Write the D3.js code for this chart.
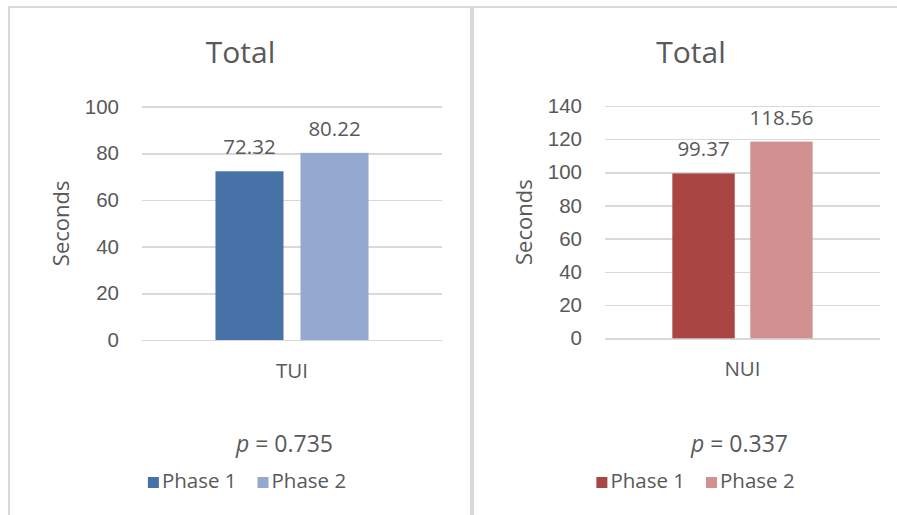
<!doctype html>
<html lang='en'>
<head>
  <meta charset='UTF-8'>
  <title>Total</title>
  <style>
    body,html{
      margin: 0;
      padding: 0;
      background: #fff;
    }
    svg{
      display: block;
      font-family: 'Open Sans', 'Noto Sans', sans-serif;
    }
    .grid line{
      stroke: #d9d9d9;
      stroke-width: 1.5;
      shape-rendering: crispEdges;
    }
    .grid path{ display: none; }
    .grid text{
      fill: #595959;
      font-size: 20.5px;
    }
    .chart-title{
      fill: #595959;
      font-size: 30px;
      text-anchor: middle;
    }
    .axis-title{
      fill: #595959;
      font-size: 22px;
      text-anchor: middle;
    }
    .bar-label, .cat-label, .legend text{
      fill: #595959;
      font-size: 20.5px;
    }
    .bar-label, .cat-label{ text-anchor: middle; }
    .p-text{
      fill: #595959;
      font-size: 23px;
      text-anchor: middle;
    }
  </style>
</head>
<body>
<script src='https://d3js.org/d3.v7.min.js'></script>
<script>
  // data
  const series = ['Phase 1', 'Phase 2']
  const tuiCategories = ['TUI']
  const tuiValues = [72.32, 80.22]
  const tuiTicks = [0, 20, 40, 60, 80, 100]
  const tuiColors = ['#4672a8', '#95a9d0']
  const tuiP = '0.735'

  const nuiCategories = ['NUI']
  const nuiValues = [99.37, 118.56]
  const nuiTicks = [0, 20, 40, 60, 80, 100, 120, 140]
  const nuiColors = ['#a94543', '#d29190']
  const nuiP = '0.337'

  const W = 897
  const H = 515

  const svg = d3.select('body').append('svg')
    .attr('width', W)
    .attr('height', H)

  // panel frames (screenshot is cropped on right and bottom)
  svg.append('rect')
    .attr('x', 9).attr('y', 7)
    .attr('width', 462).attr('height', 530)
    .attr('fill', '#fff')
    .attr('stroke', '#d9d9d9')
    .attr('stroke-width', 2)
  svg.append('rect')
    .attr('x', 473).attr('y', 7)
    .attr('width', 440).attr('height', 530)
    .attr('fill', '#fff')
    .attr('stroke', '#d9d9d9')
    .attr('stroke-width', 2)

  function drawPanel(p){
    const g = svg.append('g')

    const x0 = d3.scaleBand()
      .domain(p.categories)
      .range([p.left, p.right])
      .paddingOuter(0.48)

    const x1 = d3.scaleBand()
      .domain(series)
      .range([0, x0.bandwidth()])
      .paddingInner(0.2)

    const y = d3.scaleLinear()
      .domain([0, d3.max(p.ticks)])
      .range([p.bottom, p.top])

    // title
    g.append('text')
      .classed('chart-title', true)
      .attr('x', p.titleX)
      .attr('y', 63)
      .text('Total')

    // gridlines + tick labels
    const yAxis = d3.axisLeft(y)
      .tickValues(p.ticks)
      .tickSize(-(p.right - p.left))
      .tickPadding(23)

    g.append('g')
      .classed('grid', true)
      .attr('transform', `translate(${p.left},0)`)
      .call(yAxis)

    // y axis title
    g.append('text')
      .classed('axis-title', true)
      .attr('transform', `translate(${p.yTitleX}, ${(p.top + p.bottom) / 2}) rotate(-90)`)
      .text('Seconds')

    const rows = series.map((s, i) => ({series: s, value: p.values[i], color: p.colors[i]}))

    g.selectAll('.bar')
      .data(rows)
      .enter()
      .append('rect')
      .classed('bar', true)
      .attr('x', d => x0(p.categories[0]) + x1(d.series))
      .attr('y', d => y(d.value))
      .attr('width', x1.bandwidth())
      .attr('height', d => y(0) - y(d.value))
      .attr('fill', d => d.color)

    g.selectAll('.bar-label')
      .data(rows)
      .enter()
      .append('text')
      .classed('bar-label', true)
      .attr('x', d => x0(p.categories[0]) + x1(d.series) + x1.bandwidth() / 2)
      .attr('y', d => y(d.value) - 17)
      .text(d => d.value.toFixed(2))

    // category label
    g.append('text')
      .classed('cat-label', true)
      .attr('x', x0(p.categories[0]) + x0.bandwidth() / 2)
      .attr('y', p.bottom + 38)
      .text(p.categories[0])

    // p value
    const pt = g.append('text')
      .classed('p-text', true)
      .attr('x', p.pX)
      .attr('y', 452)
    pt.append('tspan').style('font-style', 'italic').text('p')
    pt.append('tspan').text(' = ' + p.pValue)

    // legend
    const legend = g.append('g').classed('legend', true)
    let cx = 0
    rows.forEach((d, i) => {
      const item = legend.append('g').attr('transform', `translate(${cx},0)`)
      item.append('rect')
        .attr('x', 0).attr('y', -11)
        .attr('width', 11).attr('height', 11)
        .attr('fill', d.color)
      const t = item.append('text')
        .attr('x', 14)
        .attr('y', 0)
        .text(d.series)
      cx += 14 + t.node().getComputedTextLength() + 21
    })
    const lw = cx - 21
    legend.attr('transform', `translate(${p.legendX - lw / 2}, 488)`)
  }

  drawPanel({
    categories: tuiCategories, values: tuiValues, ticks: tuiTicks, colors: tuiColors, pValue: tuiP,
    left: 142, right: 442, top: 106.7, bottom: 340,
    titleX: 240.5, yTitleX: 69, pX: 284.5, legendX: 247
  })

  drawPanel({
    categories: nuiCategories, values: nuiValues, ticks: nuiTicks, colors: nuiColors, pValue: nuiP,
    left: 605, right: 880, top: 106, bottom: 338.3,
    titleX: 691, yTitleX: 532, pX: 739.5, legendX: 695.5
  })
</script>
</body>
</html>
